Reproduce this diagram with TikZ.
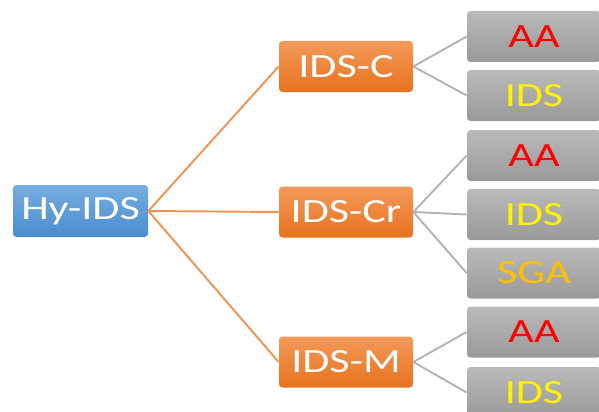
\documentclass[tikz,border=0pt]{standalone}
\usepackage{fontspec}
\setmainfont{Carlito}[FakeStretch=1.3]
\usepackage{tikz}
\usetikzlibrary{positioning}

\definecolor{blueTop}{HTML}{75AEE0}
\definecolor{blueBot}{HTML}{4A8CCF}
\definecolor{orangeTop}{HTML}{F39A5A}
\definecolor{orangeBot}{HTML}{E8721E}
\definecolor{grayTop}{HTML}{BABABA}
\definecolor{grayBot}{HTML}{999999}
\definecolor{lineOrange}{HTML}{F0954F}
\definecolor{lineGray}{HTML}{B4B4B4}
\definecolor{sgaGold}{HTML}{FFC000}

\tikzset{
	box/.style={rounded corners=2pt, minimum width=2.68cm, minimum height=1.02cm, inner sep=0pt,
		font=\fontsize{19.3}{22}\selectfont},
	rootbox/.style={box, top color=blueTop, bottom color=blueBot, text=white, minimum width=2.7cm, minimum height=1.04cm},
	midbox/.style={box, top color=orangeTop, bottom color=orangeBot, text=white},
	leafbox/.style={box, top color=grayTop, bottom color=grayBot},
	orangeline/.style={lineOrange, line width=1.1pt},
	grayline/.style={lineGray, line width=1.1pt}
}

\begin{document}
\begin{tikzpicture}
					\useasboundingbox (0,0) rectangle (11.98,8.22);
					\clip (0,0) rectangle (11.98,8.22);
					%Nodes
					\node[rootbox] (hy)   at (1.61,4.00) {Hy-IDS};
					\node[midbox]  (idsc) at (6.92,6.89) {IDS-C};
					\node[midbox]  (idscr) at (6.92,3.98) {IDS-Cr};
					\node[midbox]  (idsm) at (6.92,0.98) {IDS-M};

					\node[leafbox, text=red]     (aa1)  at (10.68,7.49) {AA};
					\node[leafbox, text=yellow]  (ids1) at (10.68,6.31) {IDS};
					\node[leafbox, text=red]     (aa2)  at (10.68,5.11) {AA};
					\node[leafbox, text=yellow]  (ids2) at (10.68,3.93) {IDS};
					\node[leafbox, text=sgaGold] (sga)  at (10.68,2.76) {SGA};
					\node[leafbox, text=red]     (aa3)  at (10.68,1.58) {AA};
					\node[leafbox, text=yellow]  (ids3) at (10.68,0.37) {IDS};

					%Lines
					\draw[orangeline] (hy.east) -- (idsc.west);
					\draw[orangeline] (hy.east) -- (idscr.west);
					\draw[orangeline] (hy.east) -- (idsm.west);

					\draw[grayline] (idsc.east) -- (aa1.west);
					\draw[grayline] (idsc.east) -- (ids1.west);
					\draw[grayline] (idscr.east) -- (aa2.west);
					\draw[grayline] (idscr.east) -- (ids2.west);
					\draw[grayline] (idscr.east) -- (sga.west);
					\draw[grayline] (idsm.east) -- (aa3.west);
					\draw[grayline] (idsm.east) -- (ids3.west);

				\end{tikzpicture}
\end{document}
